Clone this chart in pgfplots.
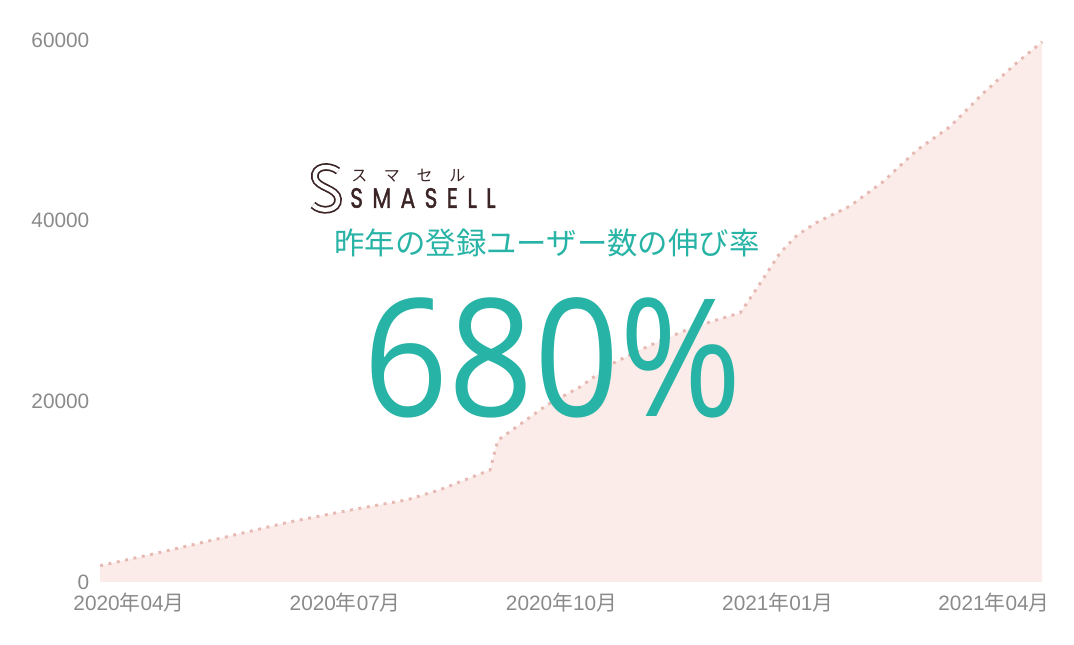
\documentclass[border=0pt]{standalone}
\usepackage{pgfplots}
\pgfplotsset{compat=1.18}
\usepackage{pgfplotstable}
\usepackage{fontspec}
\setmainfont{Liberation Sans}
\newfontfamily\cjk{Noto Sans CJK JP}
\newfontfamily\bigfont{Open Sans}
\newfontfamily\logofont[FakeBold=1.6]{Poppins}

\definecolor{smteal}{HTML}{27B3A5}
\definecolor{tickgray}{HTML}{8A8A8A}
\definecolor{areafill}{HTML}{FBECE9}
\definecolor{dotline}{HTML}{E6BAB2}
\definecolor{logobrown}{HTML}{3B2426}

% month index: 0 = 2020-04, 12 = 2021-04
\pgfplotstableread{
m      users
-0.40  1800
0.39   3200
1.30   4900
2.23   6650
3.16   8100
3.86   9100
4.31   10200
5.01   12400
5.08   14600
5.12   15700
5.80   19600
6.26   21600
6.71   24200
7.23   26200
7.82   28200
8.48   29800
8.71   32500
9.03   36400
9.27   38400
9.54   39800
10.00  41600
10.46  44300
10.93  47800
11.39  50400
11.85  54100
12.32  57500
12.67  59800
}\users

\begin{document}
\begin{tikzpicture}[x=0.75pt,y=0.75pt]
\useasboundingbox (0,0) rectangle (1074,645);
\begin{axis}[
  at={(75pt,47.25pt)}, anchor=south west,
  scale only axis, width=706.5pt, height=406.5pt,
  xmin=-0.402, xmax=12.667,
  ymin=0, ymax=60000,
  axis line style={draw=none},
  major tick length=0pt,
  xtick={0,3,6,9,12},
  xticklabels={{2020{\cjk 年}04{\cjk 月}},{2020{\cjk 年}07{\cjk 月}},{2020{\cjk 年}10{\cjk 月}},{2021{\cjk 年}01{\cjk 月}},{2021{\cjk 年}04{\cjk 月}}},
  ytick={0,20000,40000,60000},
  scaled y ticks=false,
  /pgf/number format/1000 sep={},
  /pgf/number format/assume math mode=true,
  tick label style={font=\fontsize{15.6}{18}\selectfont, text=tickgray},
  yticklabel style={xshift=-4.5pt},
  xticklabel style={yshift=-5pt},
  clip=false,
]
\addplot[draw=none, fill=areafill] table[x=m, y=users] {\users} \closedcycle;
\addplot[dotline, line width=2.2pt, dash pattern=on 2.2pt off 4.2pt] table[x=m, y=users] {\users};
\end{axis}

% logo
\draw[logobrown, line width=1.3pt, double=white, double distance=3.2pt]
  (338,474) .. controls (329,481) and (313,479) .. (315,467)
  .. controls (317,457) and (337,457) .. (338,446)
  .. controls (339,434) and (321,432) .. (313,440);
\node[anchor=west, text=logobrown, inner sep=0pt] at (351,469)
  {\cjk\fontsize{12}{12}\selectfont ス\hspace{12.5pt}マ\hspace{12.5pt}セ\hspace{12.5pt}ル};
\node[anchor=west, text=logobrown, inner sep=0pt, xscale=0.78] at (350,447)
  {\logofont\fontsize{21}{21}\selectfont S\hspace{9pt}M\hspace{9pt}A\hspace{9pt}S\hspace{9pt}E\hspace{9pt}L\hspace{9pt}L};

% headline
\node[text=smteal, inner sep=0pt] at (547,402)
  {\cjk\fontsize{22.8}{24}\selectfont 昨年の登録ユーザー数の伸び率};
\node[text=smteal, inner sep=0pt, anchor=base, xscale=0.91] at (553,228)
  {\bigfont\fontsize{123}{123}\selectfont 680\%};
\end{tikzpicture}
\end{document}
